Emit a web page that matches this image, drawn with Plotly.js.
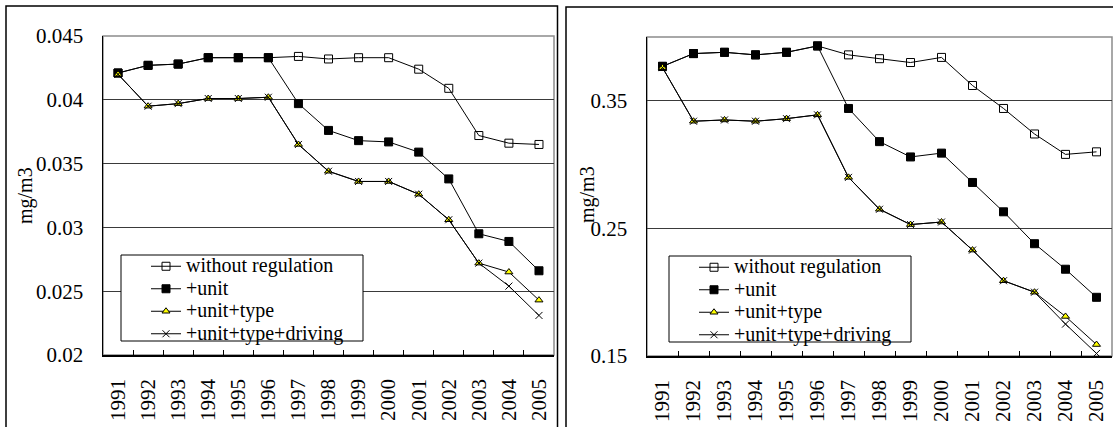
<!DOCTYPE html>
<html>
<head>
<meta charset="utf-8">
<script src="https://cdn.plot.ly/plotly-3.0.1.min.js"></script>
<style>
html,body{margin:0;padding:0;background:#fff;}
#chart{width:1113px;height:427px;}
</style>
</head>
<body>
<div id="chart"></div>
<script>
// ---- data ----
var years = ['1991','1992','1993','1994','1995','1996','1997','1998','1999','2000','2001','2002','2003','2004','2005'];
var seriesNames = ['without regulation', '+unit', '+unit+type', '+unit+type+driving'];

var leftWithout = [0.0421, 0.0427, 0.0428, 0.0433, 0.0433, 0.0433, 0.0434, 0.0432, 0.0433, 0.0433, 0.0424, 0.0409, 0.0372, 0.0366, 0.0365];
var leftUnit    = [0.0421, 0.0427, 0.0428, 0.0433, 0.0433, 0.0433, 0.0397, 0.0376, 0.0368, 0.0367, 0.0359, 0.0338, 0.0295, 0.0289, 0.0266];
var leftType    = [0.0420, 0.0395, 0.0397, 0.0401, 0.0401, 0.0402, 0.0365, 0.0344, 0.0336, 0.0336, 0.0326, 0.0306, 0.0272, 0.0265, 0.0243];
var leftDriving = [0.0420, 0.0395, 0.0397, 0.0401, 0.0401, 0.0402, 0.0365, 0.0344, 0.0336, 0.0336, 0.0326, 0.0306, 0.0272, 0.0254, 0.0231];

var rightWithout = [0.377, 0.387, 0.388, 0.386, 0.388, 0.393, 0.386, 0.383, 0.380, 0.384, 0.362, 0.344, 0.324, 0.308, 0.310];
var rightUnit    = [0.377, 0.387, 0.388, 0.386, 0.388, 0.393, 0.344, 0.318, 0.306, 0.309, 0.286, 0.263, 0.238, 0.218, 0.196];
var rightType    = [0.376, 0.334, 0.335, 0.334, 0.336, 0.339, 0.290, 0.265, 0.253, 0.255, 0.233, 0.209, 0.200, 0.181, 0.159];
var rightDriving = [0.376, 0.334, 0.335, 0.334, 0.336, 0.339, 0.290, 0.265, 0.253, 0.255, 0.233, 0.209, 0.200, 0.175, 0.152];

var yTitle = 'mg/m3';

// ---- layout helpers (pixel -> paper) ----
var W = 1113, H = 427;
function toPX(x){ return x / W; }
function toPY(y){ return 1 - y / H; }
var SERIF = 'serif';
function fnt(size){ return {family:SERIF, size:size, color:'#000'}; }

function markerStyle(i){
  if (i === 0) return {symbol:'square-open', size:8, color:'#000', line:{color:'#000', width:1}};
  if (i === 1) return {symbol:'square', size:8, color:'#000', line:{color:'#000', width:1}};
  if (i === 2) return {symbol:'triangle-up', size:7, color:'#ffff00', line:{color:'#000', width:1}};
  return {symbol:'x-thin-open', size:7, color:'#000', line:{color:'#000', width:1}};
}

function makeTraces(vals, xa, ya, leg){
  return vals.map(function(v, i){
    return {
      x: years, y: v, type:'scatter', mode:'lines+markers',
      name: '<span style="font-size:20px">' + seriesNames[i] + '</span>',
      xaxis: xa, yaxis: ya, legend: leg,
      line:{color:'#000', width:1},
      marker: markerStyle(i),
      cliponaxis:false, hoverinfo:'skip'
    };
  });
}

var traces = makeTraces([leftWithout, leftUnit, leftType, leftDriving], 'x', 'y', 'legend')
  .concat(makeTraces([rightWithout, rightUnit, rightType, rightDriving], 'x2', 'y2', 'legend2'));

function xAxis(dom, anchor){
  return {domain:dom, anchor:anchor, type:'category', range:[-0.5, 14.5],
    ticks:'inside', tickson:'boundaries', ticklen:5, tickcolor:'#000', tickwidth:1,
    tickangle:-90, ticklabelstandoff:14, showline:true, linecolor:'#000', linewidth:1.5,
    showgrid:false, zeroline:false, fixedrange:true, tickfont:fnt(21)};
}
function yAxis(dom, anchor, range, tick0, dtick){
  return {domain:dom, anchor:anchor, range:range, tick0:tick0, dtick:dtick, tickmode:'linear',
    showgrid:true, gridcolor:'#3a3a3a', gridwidth:1, showline:true, linecolor:'#000', linewidth:1.5,
    ticks:'', ticklabelstandoff:14, zeroline:false, fixedrange:true, tickfont:fnt(21)};
}
function legendAt(x, y){
  return {x:x, y:y, xanchor:'left', yanchor:'top', bgcolor:'rgba(0,0,0,0)', borderwidth:0,
    font:fnt(15), itemwidth:30, tracegroupgap:0};
}

var layout = {
  width:W, height:H, margin:{l:0, r:0, t:0, b:0},
  paper_bgcolor:'#fff', plot_bgcolor:'#fff', showlegend:true,
  font:fnt(20),
  xaxis: xAxis([toPX(103), toPX(554)], 'y'),
  yaxis: yAxis([toPY(355), toPY(36)], 'x', [0.02, 0.045], 0.02, 0.005),
  xaxis2: xAxis([toPX(647), toPX(1112)], 'y2'),
  yaxis2: yAxis([toPY(356), toPY(37)], 'x2', [0.15, 0.4], 0.15, 0.1),
  legend: legendAt(toPX(146), toPY(250)),
  legend2: legendAt(toPX(694), toPY(251)),
  shapes: [
    {type:'rect', xref:'x domain', yref:'y domain', x0:0, x1:1, y0:0, y1:1, line:{color:'#8c8c8c', width:1.5}, layer:'below'},
    {type:'rect', xref:'x2 domain', yref:'y2 domain', x0:0, x1:1, y0:0, y1:1, line:{color:'#8c8c8c', width:1.5}, layer:'below'},
    {type:'rect', xref:'paper', yref:'paper', x0:toPX(6), x1:toPX(557.5), y0:toPY(440), y1:toPY(6), line:{color:'#000', width:1.5}},
    {type:'rect', xref:'paper', yref:'paper', x0:toPX(566), x1:toPX(1130), y0:toPY(440), y1:toPY(7), line:{color:'#000', width:1.5}},
    {type:'rect', xref:'paper', yref:'paper', x0:toPX(121), x1:toPX(363), y0:toPY(341), y1:toPY(255), line:{color:'#000', width:1}, fillcolor:'#fff'},
    {type:'rect', xref:'paper', yref:'paper', x0:toPX(669), x1:toPX(911), y0:toPY(342), y1:toPY(256), line:{color:'#000', width:1}, fillcolor:'#fff'}
  ],
  annotations: [
    {text:yTitle, xref:'paper', yref:'paper', x:toPX(25), y:toPY(196), xanchor:'center', yanchor:'middle', textangle:-90, showarrow:false, font:fnt(20)},
    {text:yTitle, xref:'paper', yref:'paper', x:toPX(587), y:toPY(195), xanchor:'center', yanchor:'middle', textangle:-90, showarrow:false, font:fnt(20)}
  ]
};

Plotly.newPlot('chart', traces, layout, {staticPlot:true, displayModeBar:false});
</script>
</body>
</html>
